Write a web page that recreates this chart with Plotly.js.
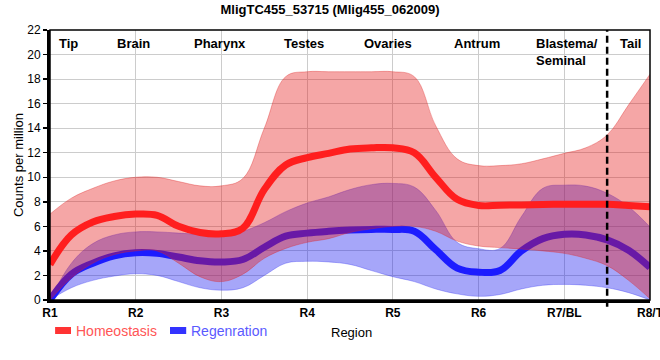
<!DOCTYPE html>
<html>
<head>
<meta charset="utf-8">
<script src="https://cdn.plot.ly/plotly-3.0.1.min.js"></script>
<style>
  html, body { margin: 0; padding: 0; background: #fff; }
  #chart { width: 660px; height: 360px; }
</style>
</head>
<body>
<div id="chart"></div>
<script>
// Region positions (1 = R1 ... 8 = R8/T), sampled every quarter region
const positions = [1, 1.25, 1.5, 1.75, 2, 2.25, 2.5, 2.75, 3, 3.25, 3.5, 3.75, 4, 4.25, 4.5, 4.75,
                   5, 5.25, 5.5, 5.75, 6, 6.25, 6.5, 6.75, 7, 7.25, 7.5, 7.75, 8];

// Homeostasis
const homeoMean  = [2.9, 5.3, 6.35, 6.8, 7.0, 6.9, 6.0, 5.5, 5.4, 5.85, 9.0, 11.0, 11.6, 11.95, 12.3, 12.4,
                    12.4, 12.0, 10.0, 8.2, 7.7, 7.72, 7.75, 7.78, 7.8, 7.8, 7.8, 7.7, 7.6];
const homeoUpper = [7.0, 8.3, 9.1, 9.7, 10.0, 10.0, 9.65, 9.3, 9.3, 9.9, 14.0, 18.2, 18.6, 18.6, 18.6, 18.6,
                    18.6, 18.2, 14.2, 11.5, 10.95, 10.95, 11.1, 11.5, 11.95, 12.4, 13.45, 15.9, 18.4];
const homeoLower = [0.0, 1.8, 3.0, 3.7, 4.0, 4.0, 3.0, 1.9, 1.5, 2.1, 3.4, 4.2, 4.7, 5.0, 5.5, 5.8,
                    6.0, 6.0, 5.6, 4.8, 4.4, 4.27, 4.15, 4.0, 3.8, 3.4, 2.8, 1.6, 0.1];

// Regeneration
const regenMean  = [0.0, 2.1, 3.0, 3.6, 3.85, 3.8, 3.5, 3.2, 3.1, 3.3, 4.3, 5.2, 5.45, 5.6, 5.7, 5.75,
                    5.75, 5.6, 4.1, 2.6, 2.27, 2.4, 4.0, 5.0, 5.35, 5.3, 4.9, 4.05, 2.65];
const regenUpper = [0.0, 3.0, 4.6, 5.3, 5.55, 5.55, 5.45, 5.35, 5.3, 5.6, 6.3, 7.2, 7.9, 8.4, 9.0, 9.4,
                    9.5, 9.2, 7.3, 4.7, 4.18, 4.2, 6.8, 9.1, 9.36, 9.28, 8.7, 7.6, 5.95];
const regenLower = [0.0, 1.0, 1.6, 1.95, 2.14, 2.0, 1.5, 1.0, 0.8, 1.0, 2.0, 3.0, 3.15, 3.1, 2.9, 2.4,
                    1.9, 1.5, 0.9, 0.5, 0.3, 0.45, 0.9, 1.2, 1.27, 1.2, 1.0, 0.6, 0.0];

// Axis ticks
const tickVals = [1, 2, 3, 4, 5, 6, 7, 8];
const tickText = ['R1', 'R2', 'R3', 'R4', 'R5', 'R6', 'R7/BL', 'R8/T'];

// Anatomical region labels along the top
const regionNames = ['Tip', 'Brain', 'Pharynx', 'Testes', 'Ovaries', 'Antrum', 'Blastema/<br>Seminal', 'Tail'];
const regionLabelX = [1.22, 1.97, 2.98, 3.96, 4.94, 5.98, 6.65, 7.77];
const regionAnchor = ['center', 'center', 'center', 'center', 'center', 'center', 'left', 'center'];
const boundaryX = 7.5;

const FONT = 'Arial, "Liberation Sans", sans-serif';
const redFill = 'rgba(230,20,20,0.38)';
const blueFill = 'rgba(20,20,240,0.38)';

const spline = {shape: 'spline', smoothing: 1.1};

const traces = [
  {x: positions, y: regenLower, type: 'scatter', mode: 'lines',
   line: Object.assign({width: 0.8, color: 'rgba(60,60,240,0.45)'}, spline),
   hoverinfo: 'skip', showlegend: false},
  {x: positions, y: regenUpper, type: 'scatter', mode: 'lines', fill: 'tonexty', fillcolor: blueFill,
   line: Object.assign({width: 0.8, color: 'rgba(60,60,240,0.45)'}, spline),
   hoverinfo: 'skip', showlegend: false},
  {x: positions, y: regenMean, type: 'scatter', mode: 'lines', name: 'Regenration',
   line: Object.assign({width: 7, color: '#1c1cff'}, spline), showlegend: false},
  {x: positions, y: homeoLower, type: 'scatter', mode: 'lines',
   line: Object.assign({width: 0.8, color: 'rgba(220,40,40,0.45)'}, spline),
   hoverinfo: 'skip', showlegend: false},
  {x: positions, y: homeoUpper, type: 'scatter', mode: 'lines', fill: 'tonexty', fillcolor: redFill,
   line: Object.assign({width: 0.8, color: 'rgba(220,40,40,0.45)'}, spline),
   hoverinfo: 'skip', showlegend: false},
  {x: positions, y: homeoMean, type: 'scatter', mode: 'lines', name: 'Homeostasis',
   line: Object.assign({width: 7, color: '#ff1e1e'}, spline), showlegend: false}
];

const annotations = regionNames.map((t, i) => ({
  x: regionLabelX[i], y: 0.985, xref: 'x', yref: 'paper',
  text: '<b>' + t + '</b>', showarrow: false,
  xanchor: regionAnchor[i], yanchor: 'top', align: 'left',
  font: {family: FONT, size: 13, color: '#000'}
}));

// Legend (custom) and x-axis caption
annotations.push(
  {xref: 'paper', yref: 'paper', x: 0.04, y: -0.113, xanchor: 'left', yanchor: 'middle',
   text: 'Homeostasis', showarrow: false, font: {family: FONT, size: 14, color: '#ff5555'}},
  {xref: 'paper', yref: 'paper', x: 0.232, y: -0.113, xanchor: 'left', yanchor: 'middle',
   text: 'Regenration', showarrow: false, font: {family: FONT, size: 14, color: '#5a5aff'}},
  {xref: 'paper', yref: 'paper', x: 0.502, y: -0.12, xanchor: 'center', yanchor: 'middle',
   text: 'Region', showarrow: false, font: {family: FONT, size: 13, color: '#000'}}
);

const shapes = [
  {type: 'line', xref: 'x', yref: 'paper', x0: boundaryX, x1: boundaryX, y0: -0.025, y1: 1,
   line: {color: '#000', width: 2.5, dash: '7px,4px'}},
  {type: 'rect', xref: 'paper', yref: 'paper', x0: 0, x1: 1, y0: 0, y1: 1,
   line: {color: '#000', width: 1.5}, fillcolor: 'rgba(0,0,0,0)'},
  {type: 'rect', xref: 'paper', yref: 'paper', x0: 0.0085, x1: 0.035, y0: -0.1, y1: -0.126,
   line: {width: 0}, fillcolor: '#ff3333'},
  {type: 'rect', xref: 'paper', yref: 'paper', x0: 0.2, x1: 0.227, y0: -0.1, y1: -0.126,
   line: {width: 0}, fillcolor: '#3333ff'}
];

const layout = {
  width: 660, height: 360,
  margin: {l: 50, r: 10, t: 30, b: 60},
  paper_bgcolor: '#fff', plot_bgcolor: '#fff',
  font: {family: FONT, size: 12, color: '#000'},
  title: {text: '<b>MligTC455_53715 (Mlig455_062009)</b>', x: 0.5, xanchor: 'center',
          y: 0.975, yanchor: 'middle', font: {family: FONT, size: 13, color: '#000'}},
  showlegend: false,
  xaxis: {
    range: [1, 8], tickvals: tickVals, ticktext: tickText,
    tickfont: {family: FONT, size: 12, color: '#000', weight: 'bold'},
    ticklabeloverflow: 'allow',
    showgrid: true, gridcolor: '#cccccc', gridwidth: 1,
    showline: true, linecolor: '#000', linewidth: 3,
    ticks: '', zeroline: false, fixedrange: true
  },
  yaxis: {
    range: [0, 22], dtick: 2, tick0: 0,
    tickfont: {family: FONT, size: 12, color: '#000'},
    showgrid: true, gridcolor: '#cccccc', gridwidth: 1,
    showline: true, linecolor: '#000', linewidth: 3,
    ticks: 'outside', ticklen: 4, tickwidth: 1.5, tickcolor: '#000',
    zeroline: false, fixedrange: true,
    title: {text: 'Counts per million', font: {family: FONT, size: 13, color: '#000'}, standoff: 1}
  },
  annotations: annotations,
  shapes: shapes
};

Plotly.newPlot('chart', traces, layout, {displayModeBar: false, staticPlot: true});
</script>
</body>
</html>
